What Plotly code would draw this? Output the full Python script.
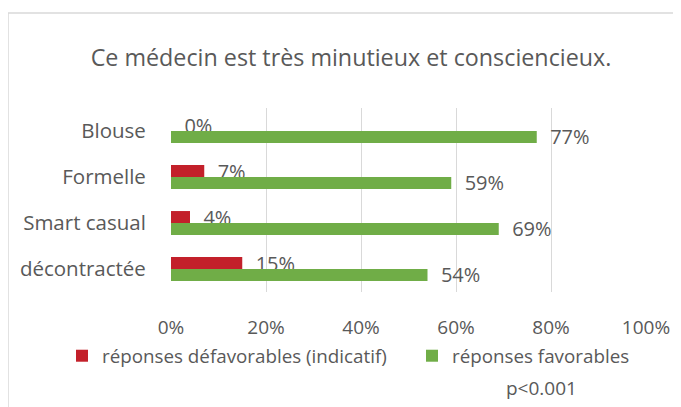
import plotly.graph_objects as go

categories = ["Blouse", "Formelle", "Smart casual", "décontractée"]
unfavorable = [0, 7, 4, 15]
favorable = [77, 59, 69, 54]
series_names = ["réponses défavorables (indicatif)", "réponses favorables"]
x_ticks = [0, 20, 40, 60, 80, 100]
x_tick_labels = ["0%", "20%", "40%", "60%", "80%", "100%"]
title_text = "Ce médecin est très minutieux et consciencieux."
note_text = "p<0.001"

RED = "#C3202A"
GREEN = "#70AD47"
TXT = "#595959"
FONT = "Open Sans"
PAD = "\u00a0\u00a0"

# the page body has an 8px default margin; compensate so the picture lines up
OFF = 8
W, H = 681 - OFF, 407 - OFF
L, T = 171 - OFF, 108 - OFF
PLOT_R, PLOT_B = 646 - OFF, 292 - OFF
R, B = W - PLOT_R, H - PLOT_B
pw, ph = PLOT_R - L, PLOT_B - T


def px_x(p):
    return (p - OFF - L) / pw


def px_y(p):
    return (PLOT_B - (p - OFF)) / ph


fig = go.Figure()
fig.add_trace(go.Bar(
    y=categories, x=unfavorable, orientation="h", name=series_names[0],
    marker=dict(color=RED, line=dict(width=0)),
    text=[PAD + f"{v}%" for v in unfavorable], textposition="outside",
    constraintext="none",
    textfont=dict(color=TXT, size=20, family=FONT), cliponaxis=False,
    legend="legend",
))
fig.add_trace(go.Bar(
    y=categories, x=favorable, orientation="h", name=series_names[1],
    marker=dict(color=GREEN, line=dict(width=0)),
    text=[PAD + f"{v}%" for v in favorable], textposition="outside",
    constraintext="none",
    textfont=dict(color=TXT, size=20, family=FONT), cliponaxis=False,
    legend="legend2",
))

legend_common = dict(orientation="h", xanchor="left", y=px_y(356),
                     yanchor="middle", bgcolor="rgba(0,0,0,0)",
                     font=dict(size=18.8, color=TXT, family=FONT))

fig.update_layout(
    width=W, height=H,
    margin=dict(l=L, r=R, t=T, b=B, autoexpand=False),
    paper_bgcolor="white", plot_bgcolor="white",
    barmode="group", bargap=0.48, bargroupgap=0,
    font=dict(family=FONT, color=TXT, size=18),
    title=dict(text=title_text, x=(351 - OFF) / W, xanchor="center",
               y=1 - (58 - OFF) / H, yanchor="middle",
               font=dict(size=23.3, color=TXT, family=FONT)),
    xaxis=dict(range=[0, 100], tickvals=x_ticks, ticktext=x_tick_labels,
               showgrid=True, gridcolor="#D9D9D9", gridwidth=1,
               zeroline=False, showline=False, automargin=False,
               ticks="outside", ticklen=18, tickcolor="rgba(0,0,0,0)",
               tickfont=dict(size=19, color=TXT, family=FONT)),
    yaxis=dict(autorange="reversed", showgrid=False, zeroline=False,
               showline=False, automargin=False, ticks="outside", ticklen=20,
               tickcolor="rgba(0,0,0,0)",
               tickfont=dict(size=20.5, color=TXT, family=FONT)),
    legend=dict(x=px_x(62), **legend_common),
    legend2=dict(x=px_x(412), **legend_common),
    showlegend=True,
)

fig.add_annotation(text=note_text, x=px_x(541), y=px_y(388),
                   xref="paper", yref="paper", showarrow=False,
                   xanchor="center", yanchor="middle",
                   font=dict(size=19, color=TXT, family=FONT))

fig.add_shape(type="rect", xref="paper", yref="paper",
              x0=px_x(8), x1=px_x(700), y0=px_y(430), y1=px_y(13),
              line=dict(color="#D9D9D9", width=1.5), layer="below")

fig.write_html("out.html")
